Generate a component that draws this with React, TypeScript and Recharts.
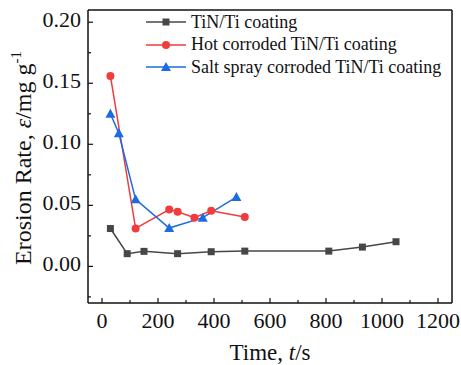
import React from 'react';
import { LineChart, Line, XAxis, YAxis, Legend } from 'recharts';

// erosion rate vs time
const tinTime = [30, 90, 150, 270, 390, 510, 810, 930, 1050];
const tinRate = [0.031, 0.0104, 0.0123, 0.0104, 0.012, 0.0125, 0.0125, 0.0158, 0.0202];
const hotTime = [30, 120, 240, 270, 330, 390, 510];
const hotRate = [0.156, 0.0311, 0.0465, 0.0448, 0.0399, 0.0456, 0.0404];
const saltTime = [30, 60, 120, 240, 360, 480];
const saltRate = [0.125, 0.109, 0.0549, 0.0314, 0.0399, 0.0568];

const xTicks = [0, 100, 200, 300, 400, 500, 600, 700, 800, 900, 1000, 1100, 1200];
const yTicks = [-0.025, 0, 0.025, 0.05, 0.075, 0.1, 0.125, 0.15, 0.175, 0.2];

const FONT = "'Liberation Serif', 'Times New Roman', serif";
const AXIS = '#111';

const toPoints = (xs: number[], ys: number[]) => xs.map((t, i) => ({ t, v: ys[i] }));

const series = [
  { name: 'TiN/Ti coating', color: '#474747', shape: 'square', data: toPoints(tinTime, tinRate) },
  { name: 'Hot corroded TiN/Ti coating', color: '#F03C3C', shape: 'circle', data: toPoints(hotTime, hotRate) },
  { name: 'Salt spray corroded TiN/Ti coating', color: '#1C6CE0', shape: 'triangle', data: toPoints(saltTime, saltRate) },
];

function Marker({ cx, cy, shape, color }: { cx: number; cy: number; shape: string; color: string }) {
  if (cx == null || cy == null) return null;
  if (shape === 'square') return <rect x={cx - 3.5} y={cy - 3.5} width={7} height={7} fill={color} />;
  if (shape === 'circle') return <circle cx={cx} cy={cy} r={4} fill={color} />;
  return <polygon points={`${cx},${cy - 5} ${cx - 5},${cy + 4} ${cx + 5},${cy + 4}`} fill={color} />;
}

const XTick = (props: any) => {
  const { x, y, payload } = props;
  const major = payload.value % 200 === 0;
  return (
    <g>
      <line x1={x} x2={x} y1={y} y2={y - (major ? 5 : 3)} stroke={AXIS} strokeWidth={1.2} />
      {major && (
        <text x={x} y={y + 25} textAnchor="middle" fontSize={22} fontFamily={FONT} fill="#111">
          {payload.value}
        </text>
      )}
    </g>
  );
};

const YTick = (props: any) => {
  const { x, y, payload } = props;
  const major = Math.round(payload.value * 1000) % 50 === 0;
  return (
    <g>
      <line x1={x} x2={x + (major ? 5 : 3)} y1={y} y2={y} stroke={AXIS} strokeWidth={1.2} />
      {major && (
        <text x={x - 7} y={y + 5} textAnchor="end" fontSize={22} fontFamily={FONT} fill="#111">
          {payload.value.toFixed(2)}
        </text>
      )}
    </g>
  );
};

const renderLegend = () => (
  <div style={{ fontFamily: FONT, fontSize: 18, color: '#111' }}>
    {series.map(s => (
      <div key={s.name} style={{ display: 'flex', alignItems: 'center', height: 22.5 }}>
        <svg width={44} height={14} style={{ marginRight: 1 }}>
          <line x1={0} x2={40} y1={7} y2={7} stroke={s.color} strokeWidth={1.5} />
          <Marker cx={20} cy={7} shape={s.shape} color={s.color} />
        </svg>
        <span>{s.name}</span>
      </div>
    ))}
  </div>
);

// axis titles, drawn on top of the chart svg
function AxisTitles() {
  return (
    <svg width={461} height={365} style={{ position: 'absolute', left: 0, top: 0, pointerEvents: 'none' }}>
      <text x={31} y={158} transform="rotate(-90, 31, 158)" textAnchor="middle" fontSize={24} fontFamily={FONT} fill="#111">
        Erosion Rate, <tspan fontStyle="italic">ε</tspan>/mg g
        <tspan fontSize={15} dy={-10}>-1</tspan>
      </text>
      <text x={270} y={360} textAnchor="middle" fontSize={23} fontFamily={FONT} fill="#111">
        Time, <tspan fontStyle="italic">t</tspan>/s
      </text>
    </svg>
  );
}

export default function App() {
  return (
    <div style={{ position: 'absolute', left: 0, top: 0, width: 461, height: 365, background: '#fff' }}>
      <LineChart width={461} height={365} margin={{ top: 9, right: 8, bottom: 61, left: 87 }}>
        <XAxis
          dataKey="t"
          type="number"
          domain={[-50, 1250]}
          ticks={xTicks}
          interval={0}
          height={1}
          tickSize={0}
          tickMargin={0}
          tickLine={false}
          tick={<XTick />}
          axisLine={{ stroke: AXIS, strokeWidth: 1.5 }}
          allowDataOverflow
        />
        <XAxis xAxisId="top" orientation="top" type="number" domain={[-50, 1250]} height={1} tick={false} tickLine={false} axisLine={{ stroke: AXIS, strokeWidth: 1.5 }} />
        <YAxis
          type="number"
          domain={[-0.03, 0.21]}
          ticks={yTicks}
          interval={0}
          width={1}
          tickSize={0}
          tickMargin={0}
          tickLine={false}
          tick={<YTick />}
          axisLine={{ stroke: AXIS, strokeWidth: 1.5 }}
          allowDataOverflow
        />
        <YAxis yAxisId="right" orientation="right" type="number" domain={[-0.03, 0.21]} width={1} tick={false} tickLine={false} axisLine={{ stroke: AXIS, strokeWidth: 1.5 }} />
        <Legend
          content={renderLegend}
          layout="horizontal"
          verticalAlign="middle"
          align="center"
          wrapperStyle={{ position: 'absolute', left: 146, top: 11, width: 'auto' }}
        />
        {series.map(s => (
          <Line
            key={s.name}
            data={s.data}
            dataKey="v"
            type="linear"
            stroke={s.color}
            strokeWidth={1.5}
            isAnimationActive={false}
            dot={(p: any) => <Marker key={`${s.name}-${p.index}`} cx={p.cx} cy={p.cy} shape={s.shape} color={s.color} />}
            activeDot={false}
          />
        ))}
      </LineChart>
      <AxisTitles />
    </div>
  );
}
